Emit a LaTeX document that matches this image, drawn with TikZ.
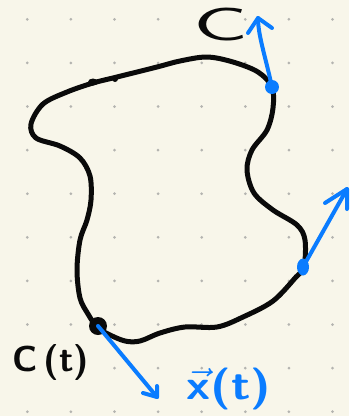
\documentclass[tikz,border=0pt]{standalone}
\usetikzlibrary{calc,shapes.geometric}
\definecolor{paper}{HTML}{F8F6EA}
\definecolor{griddot}{HTML}{B4B4B0}
\definecolor{pen}{HTML}{0A0A0A}
\definecolor{bluepen}{HTML}{0A7CFF}
\begin{document}
\begin{tikzpicture}[x=1pt,y=-1pt,
  curvestroke/.style={draw=pen,line width=5pt,line cap=round,line join=round},
  vecstroke/.style={draw=bluepen,line width=4pt,line cap=round,line join=round},
  bluedot/.style={fill=bluepen,draw=none,ellipse,inner sep=0pt},
  blackdot/.style={fill=pen,draw=none,circle,inner sep=0pt,minimum size=18pt},
  lbl/.style={inner sep=0pt,font=\sffamily\bfseries}]
\fill[paper] (0,0) rectangle (349,416);
\useasboundingbox (0,0) rectangle (349,416);
% dot grid
\foreach \i in {0,...,7}{
  \foreach \j in {0,...,9}{
    \fill[griddot] ({27.3+43.6*\i},{19.3+43.6*\j}) circle (1.5pt);
  }
}
% closed curve
\draw[curvestroke] plot[smooth cycle,tension=0.55] coordinates {
 (97,327) (88,314) (80,298) (77,270) (80,240) (87,220) (91,200) (90,176)
 (80,158) (60,146) (36,138) (31,124) (43,104) (67,92) (93,83) (117,77)
 (157,67) (180,61) (207,57) (233,62) (258,72) (272,87) (273,108) (267,130)
 (252,150) (247,170) (254,193) (273,210) (297,225) (305,240) (304,267)
 (296,277) (273,301) (243,317) (217,327) (185,327) (160,333) (140,341)
 (125,341) (108,334)};
% small blobs on the top stroke
\fill[pen] (93,82) ellipse (5pt and 3.5pt);
\fill[pen] (115,79) circle (3pt);
% points
\node[blackdot] (ct) at (98,326) {};
\node[bluedot,minimum width=14pt,minimum height=14pt] (ptop) at (272,87) {};
\node[bluedot,minimum width=12pt,minimum height=17pt] (pright) at (303,267) {};
% vectors
\coordinate (ttop) at (258,18);
\coordinate (tright) at (347,189);
\coordinate (tbot) at (157,397);
\draw[vecstroke] (ptop.center) .. controls (265,55) and (258,35) .. (ttop);
\draw[vecstroke] (248,33) -- (ttop) -- (272,28);
\draw[vecstroke] (pright.center) -- (tright);
\draw[vecstroke] (325,203) -- (tright) -- (347,209);
\draw[vecstroke] (ct.center) -- (tbot);
\draw[vecstroke] (143,393) -- (tbot) -- (157,386);
% labels
\node[lbl,font=\sffamily,text=pen,xscale=8.5,yscale=4.6] (cname) at (221,25) {C};
\node[lbl,text=pen,scale=3.6] (ctlabel) at (51,362) {C\,(t)};
\node[lbl,text=bluepen,xscale=4.8,yscale=4.2] (vlabel) at (229,389) {$\vec{\textsf{\textbf{x}}}$(t)};
\end{tikzpicture}
\end{document}
